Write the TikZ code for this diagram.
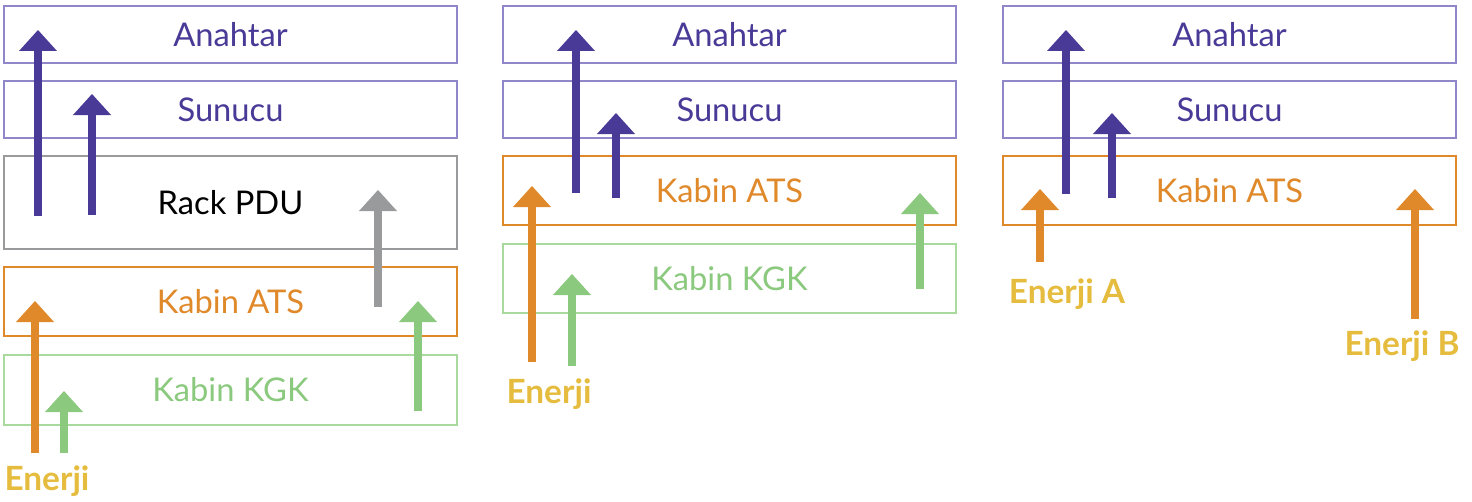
\documentclass[tikz,border=0pt]{standalone}
\usepackage{fontspec}
\setmainfont{Lato}
\usetikzlibrary{arrows.meta}
\definecolor{purpledark}{RGB}{72,58,150}
\definecolor{purplelight}{RGB}{143,135,201}
\definecolor{orangeats}{RGB}{224,137,42}
\definecolor{greenups}{RGB}{139,201,126}
\definecolor{greenlight}{RGB}{168,217,157}
\definecolor{graypdu}{RGB}{153,154,156}
\definecolor{yellowpower}{RGB}{229,188,62}
\tikzset{
  layer/.style={draw=#1, line width=1.1pt, minimum width=9.06cm, inner sep=0pt, font=\fontsize{18.6}{22}\selectfont},
  feed/.style={line width=0.16cm, draw=#1, -{Triangle[width=0.76cm,length=0.42cm,line width=0pt,fill=#1]}},
  power/.style={text=yellowpower, anchor=base, font=\bfseries\fontsize{19}{22}\selectfont}
}
\begin{document}
\begin{tikzpicture}[x=0.02cm, y=-0.02cm]
\useasboundingbox (0,0) rectangle (1472,501);

% first stack
\node[layer=purplelight, text=purpledark, minimum height=1.14cm] (sw1) at (230.5,34.5) {Anahtar};
\node[layer=purplelight, text=purpledark, minimum height=1.14cm] (srv1) at (230.5,109.5) {Sunucu};
\node[layer=graypdu, text=black, minimum height=1.86cm] (pdu1) at (230.5,202.5) {Rack PDU};
\node[layer=orangeats, text=orangeats, minimum height=1.38cm] (ats1) at (230.5,301.5) {Kabin ATS};
\node[layer=greenlight, text=greenups, minimum height=1.40cm] (ups1) at (230.5,390) {Kabin KGK};
\node[power] (pow1) at (47,490) {Enerji};

% second stack
\node[layer=purplelight, text=purpledark, minimum height=1.14cm] (sw2) at (729.5,34.5) {Anahtar};
\node[layer=purplelight, text=purpledark, minimum height=1.14cm] (srv2) at (729.5,109.5) {Sunucu};
\node[layer=orangeats, text=orangeats, minimum height=1.38cm] (ats2) at (729.5,190.5) {Kabin ATS};
\node[layer=greenlight, text=greenups, minimum height=1.38cm] (ups2) at (729.5,278.5) {Kabin KGK};
\node[power] (pow2) at (549,403) {Enerji};

% third stack
\node[layer=purplelight, text=purpledark, minimum height=1.14cm] (sw3) at (1229.5,34.5) {Anahtar};
\node[layer=purplelight, text=purpledark, minimum height=1.14cm] (srv3) at (1229.5,109.5) {Sunucu};
\node[layer=orangeats, text=orangeats, minimum height=1.38cm] (ats3) at (1229.5,190.5) {Kabin ATS};
\node[power] (powA) at (1067,303) {Enerji A};
\node[power] (powB) at (1402,355) {Enerji B};

% feed ends
\coordinate (pur1s) at (38,216);  \coordinate (pur1t) at (38,30);
\coordinate (pur2s) at (92,215);  \coordinate (pur2t) at (92,94);
\coordinate (gry1s) at (378,307); \coordinate (gry1t) at (378,190);
\coordinate (org1s) at (35,453);  \coordinate (org1t) at (35,301);
\coordinate (grn1s) at (64,453);  \coordinate (grn1t) at (64,391);
\coordinate (grn2s) at (418,411); \coordinate (grn2t) at (418,301);

\coordinate (pur3s) at (576,193); \coordinate (pur3t) at (576,30);
\coordinate (pur4s) at (616,198); \coordinate (pur4t) at (616,113);
\coordinate (org2s) at (532,362); \coordinate (org2t) at (532,186);
\coordinate (grn3s) at (572,366); \coordinate (grn3t) at (572,274);
\coordinate (grn4s) at (920,289); \coordinate (grn4t) at (920,193);

\coordinate (pur5s) at (1066,194); \coordinate (pur5t) at (1066,30);
\coordinate (pur6s) at (1112,198); \coordinate (pur6t) at (1112,113);
\coordinate (org3s) at (1040,262); \coordinate (org3t) at (1040,189);
\coordinate (org4s) at (1415,319); \coordinate (org4t) at (1415,189);

% feeds
\draw[feed=purpledark] (pur1s) -- (pur1t);
\draw[feed=purpledark] (pur2s) -- (pur2t);
\draw[feed=graypdu] (gry1s) -- (gry1t);
\draw[feed=orangeats] (org1s) -- (org1t);
\draw[feed=greenups] (grn1s) -- (grn1t);
\draw[feed=greenups] (grn2s) -- (grn2t);

\draw[feed=purpledark] (pur3s) -- (pur3t);
\draw[feed=purpledark] (pur4s) -- (pur4t);
\draw[feed=orangeats] (org2s) -- (org2t);
\draw[feed=greenups] (grn3s) -- (grn3t);
\draw[feed=greenups] (grn4s) -- (grn4t);

\draw[feed=purpledark] (pur5s) -- (pur5t);
\draw[feed=purpledark] (pur6s) -- (pur6t);
\draw[feed=orangeats] (org3s) -- (org3t);
\draw[feed=orangeats] (org4s) -- (org4t);

\end{tikzpicture}
\end{document}
